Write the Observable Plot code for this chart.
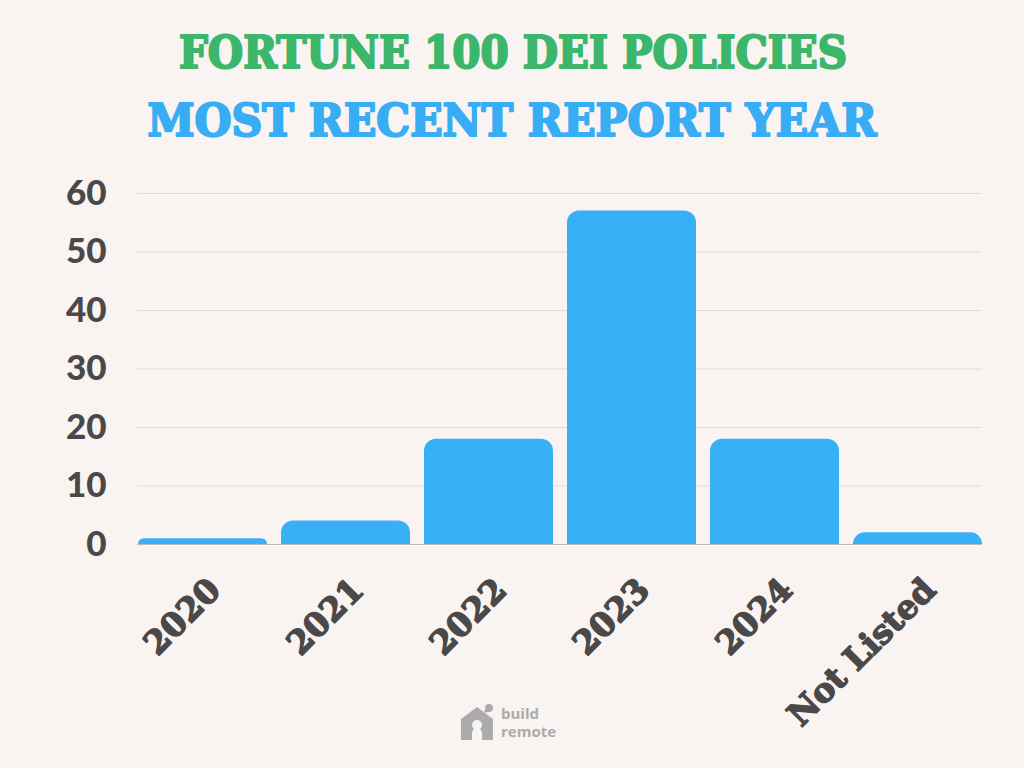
<!DOCTYPE html>
<html>
<head>
<meta charset="utf-8">
<script src="https://cdn.jsdelivr.net/npm/d3@7"></script>
<script src="https://cdn.jsdelivr.net/npm/@observablehq/plot@0.6"></script>
<style>
  html, body { margin: 0; padding: 0; background: #f9f4f2; width: 1024px; height: 768px; overflow: hidden; }
  #wrap { position: relative; width: 1024px; height: 768px; }
  #header { display: block; }
  #chart svg { display: block; background: transparent; }
  #logo { position: absolute; left: 459px; top: 703px; display: flex; align-items: center; }
  #logo .txt { font-family: "Open Sans", "DejaVu Sans", sans-serif; font-weight: 700; color: #ababab; font-size: 15px; margin-left: 6px; }
  #logo .txt div { line-height: 18px; height: 18px; }
</style>
</head>
<body>
<div id="wrap">
  <svg id="header" width="1024" height="160">
    <text x="513" y="68" text-anchor="middle" textLength="668" lengthAdjust="spacingAndGlyphs"
      style="font-family:'DejaVu Serif',serif;font-weight:bold;font-size:44px;fill:#3cb66b;stroke:#3cb66b;stroke-width:2.2px;stroke-linejoin:round;">FORTUNE 100 DEI POLICIES</text>
    <text x="512" y="136" text-anchor="middle" textLength="729" lengthAdjust="spacingAndGlyphs"
      style="font-family:'DejaVu Serif',serif;font-weight:bold;font-size:44px;fill:#39adf3;stroke:#39adf3;stroke-width:2.2px;stroke-linejoin:round;">MOST RECENT REPORT YEAR</text>
  </svg>
  <div id="chart"></div>
  <div id="logo">
    <svg width="36" height="38" viewBox="0 0 36 38">
      <path d="M18 4 L2 16 L2 37 L13 37 L13 30 A5 5 0 0 1 23 30 L23 37 L34 37 L34 16 Z" fill="#ababab"/>
      <circle cx="18" cy="22" r="5" fill="#f9f4f2"/>
      <circle cx="30" cy="5" r="4" fill="#ababab"/>
      <line x1="26" y1="9" x2="30" y2="5" stroke="#ababab" stroke-width="3"/>
    </svg>
    <div class="txt"><div>build</div><div>remote</div></div>
  </div>
</div>
<script>
const categories = ["2020", "2021", "2022", "2023", "2024", "Not Listed"];
const counts = [1, 4, 18, 57, 18, 2];
const yTicks = [0, 10, 20, 30, 40, 50, 60];

const data = categories.map((c, i) => ({category: c, count: counts[i]}));

const plot = Plot.plot({
  width: 1024,
  height: 608,
  marginTop: 33,
  marginBottom: 224,
  marginLeft: 137,
  marginRight: 42,
  style: {background: "transparent", color: "#4a4848"},
  x: {domain: categories, paddingInner: 0.1, paddingOuter: 0, axis: null},
  y: {domain: [0, 60], axis: null},
  marks: [
    Plot.gridY(yTicks, {stroke: "#dddddd", strokeOpacity: 1, strokeWidth: 1}),
    Plot.ruleY([0], {stroke: "#bbbbbb", strokeWidth: 1}),
    Plot.barY(data, {x: "category", y: "count", fill: "#38b0f5", ry1: 12}),
    Plot.axisY(yTicks, {tickSize: 0, tickPadding: 31, fontSize: 35, fontWeight: 900,
      fontFamily: "Lato, 'DejaVu Sans', sans-serif", fill: "#4a4848",
      stroke: "#4a4848", strokeWidth: 1.6, label: null}),
    Plot.text(categories, {x: d => d, y: 0,
      text: d => d, rotate: -45, textAnchor: "end", lineAnchor: "middle",
      dx: 12, dy: 40, fontSize: 33, fontWeight: "bold", fontFamily: "'DejaVu Serif', serif",
      fill: "#4a4848", stroke: "#4a4848", strokeWidth: 1.4})
  ]
});
document.getElementById("chart").appendChild(plot);
</script>
</body>
</html>
